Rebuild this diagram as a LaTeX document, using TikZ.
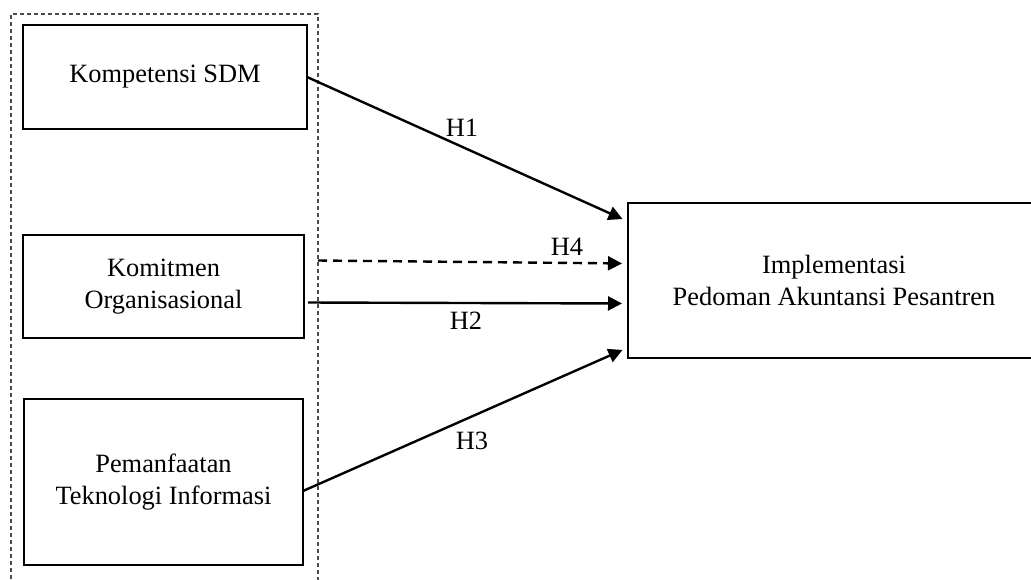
\documentclass[tikz,border=0pt]{standalone}
\usepackage{fontspec}
\setmainfont{Liberation Serif}
\usepackage{tikz}
\usetikzlibrary{arrows.meta,positioning}

\begin{document}
\begin{tikzpicture}[
    x=0.5pt, y=-0.5pt,
    every node/.style={font=\fontsize{13.2}{16.2}\selectfont},
    box/.style={rectangle, draw, line width=1.2pt, align=center, inner sep=0pt, outer sep=0pt},
    arrow/.style={-{Triangle[length=7pt,width=7pt]}, line width=1.2pt, shorten >=3pt},
    hyp/.style={inner sep=0pt},
    outline/.style={draw=black!70, line width=0.6pt, dash pattern=on 2pt off 1.5pt}
]
    \useasboundingbox (0,0) rectangle (1031,579);
    \clip (0,0) rectangle (1031,579);

    % variabel independen
    \node[box, minimum width=142pt, minimum height=52pt] (sdm) at (165,77) {Kompetensi SDM};
    \node[box, minimum width=140.5pt, minimum height=51.5pt] (komit) at (163.5,286.5) {Komitmen\\Organisasional};
    \node[box, minimum width=139.5pt, minimum height=83pt] (ti) at (163.5,482) {Pemanfaatan\\Teknologi Informasi};
    \draw[outline] (11,600) |- (318,14) -- (318,600);

    % variabel dependen
    \node[box, minimum width=206pt, minimum height=77.5pt] (impl) at (834,280.5) {Implementasi\\Pedoman Akuntansi Pesantren};

    \draw[arrow] (sdm.east) -- ([yshift=29.5pt]impl.west);
    \draw[arrow, dash pattern=on 4.5pt off 3pt] ([xshift=7pt, yshift=13pt]komit.east) -- ([yshift=8.5pt]impl.west);
    \draw[arrow] ([xshift=2pt, yshift=-8pt]komit.east) -- ([yshift=-11.5pt]impl.west);
    \draw[arrow] ([yshift=-4.5pt]ti.east) -- ([yshift=-33.5pt]impl.west);

    \node[hyp] (h1) at (462,128) {H1};
    \node[hyp] (h4) at (567,247) {H4};
    \node[hyp] (h2) at (466,321) {H2};
    \node[hyp] (h3) at (472,441) {H3};
\end{tikzpicture}
\end{document}
